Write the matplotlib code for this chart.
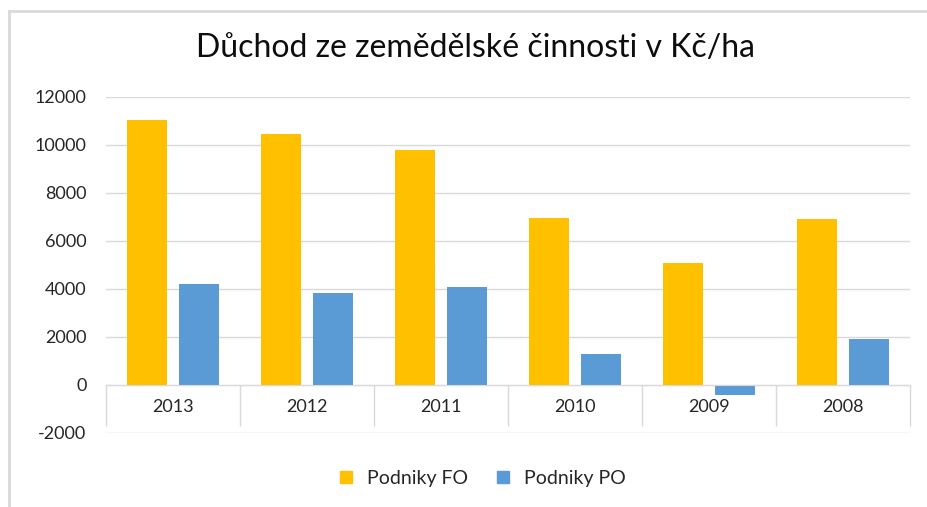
import matplotlib.pyplot as plt
import numpy as np
from matplotlib.lines import Line2D

years = ["2013", "2012", "2011", "2010", "2009", "2008"]
podniky_fo = [11040, 10460, 9790, 6960, 5070, 6920]
podniky_po = [4200, 3830, 4080, 1290, -430, 1930]
y_ticks = [-2000, 0, 2000, 4000, 6000, 8000, 10000, 12000]

plt.rcParams["font.family"] = ["Lato", "DejaVu Sans"]

fig = plt.figure(figsize=(9.28, 5.07), dpi=100)
ax = fig.add_axes([0.1142, 0.146, 0.8664, 0.6627])

x = np.arange(len(years))
w = 0.3
off = 0.194
ax.bar(x - off, podniky_fo, w, color="#FFC000", label="Podniky FO", zorder=3)
ax.bar(x + off, podniky_po, w, color="#5B9BD5", label="Podniky PO", zorder=3)

ax.set_xlim(-0.5, len(years) - 0.5)
ax.set_ylim(-2000, 12000)
ax.set_yticks(y_ticks)
ax.set_yticklabels([str(v) for v in y_ticks], fontsize=13, color="#262626")
ax.tick_params(axis="y", length=0, pad=14)
ax.grid(axis="y", color="#d9d9d9", lw=1, zorder=0)

# category axis sits at zero, separators drawn as long ticks
for s in ["left", "right", "top"]:
    ax.spines[s].set_visible(False)
ax.spines["bottom"].set_position(("data", 0))
ax.spines["bottom"].set_color("#d9d9d9")
ax.spines["bottom"].set_zorder(4)
ax.set_xticks(np.arange(-0.5, len(years)), labels=[""] * (len(years) + 1))
ax.tick_params(axis="x", which="major", length=29.5, color="#d9d9d9", width=1)
ax.set_xticks(x, minor=True)
ax.set_xticklabels(years, minor=True, fontsize=13, color="#262626")
ax.tick_params(axis="x", which="minor", length=0, pad=10)

fig.text(0.512, 0.905, "Důchod ze zemědělské činnosti v Kč/ha",
         ha="center", va="center", fontsize=23, color="#0d0d0d")

handles = [Line2D([], [], marker="s", ls="", ms=9, color="#FFC000"),
           Line2D([], [], marker="s", ls="", ms=9, color="#5B9BD5")]
fig.legend(handles, ["Podniky FO", "Podniky PO"], loc="center",
           bbox_to_anchor=(0.513, 0.057), ncol=2, frameon=False,
           fontsize=14, handletextpad=0.1, columnspacing=0.8,
           labelcolor="#262626")

# outer chart frame (only top and left edges are visible)
fig.add_artist(Line2D([9 / 928, 9 / 928], [0, 1 - 11 / 507],
                      transform=fig.transFigure, color="#d9d9d9", lw=2))
fig.add_artist(Line2D([9 / 928, 1], [1 - 11 / 507, 1 - 11 / 507],
                      transform=fig.transFigure, color="#d9d9d9", lw=2))

fig.savefig("out.png", dpi=100)
